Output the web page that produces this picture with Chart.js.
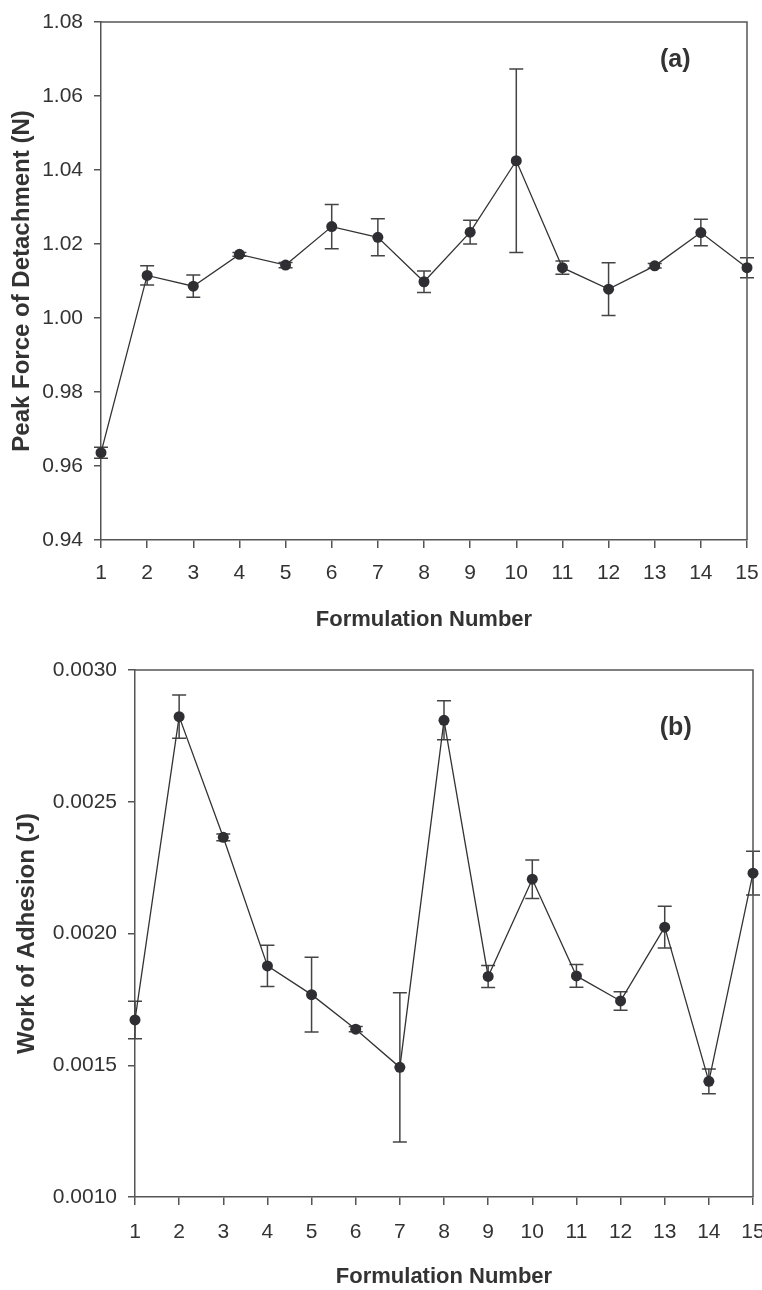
<!DOCTYPE html>
<html>
<head>
<meta charset="utf-8">
<script src="https://cdn.jsdelivr.net/npm/chart.js@4.4.1/dist/chart.umd.min.js"></script>
<style>
body { margin: 0; background: #fff; }
.box { position: relative; width: 762px; height: 645px; }
</style>
</head>
<body>
<div class="box"><canvas id="chartA"></canvas></div>
<div class="box"><canvas id="chartB"></canvas></div>
<script>
const formulations = ['1', '2', '3', '4', '5', '6', '7', '8', '9', '10', '11', '12', '13', '14', '15'];

// (a) peak force of detachment, N
const peakForce = [0.9636, 1.0115, 1.0086, 1.0172, 1.0143, 1.0247, 1.0218, 1.0098, 1.0232, 1.0425, 1.0136, 1.0078, 1.0141, 1.0231, 1.0136];
const peakForceErr = [0.0015, 0.0026, 0.0030, 0.0005, 0.0007, 0.0060, 0.0050, 0.0029, 0.0032, 0.0248, 0.0018, 0.0071, 0.0006, 0.0036, 0.0027];
const peakTicks = [0.94, 0.96, 0.98, 1.00, 1.02, 1.04, 1.06, 1.08];

// (b) work of adhesion, J
const workAdhesion = [0.001672, 0.002823, 0.002365, 0.001877, 0.001768, 0.001637, 0.001492, 0.002809, 0.001837, 0.002206, 0.001839, 0.001744, 0.002024, 0.001439, 0.002229];
const workAdhesionErr = [0.000071, 0.000082, 0.000013, 0.000078, 0.000142, 0.000010, 0.000283, 0.000074, 0.000042, 0.000073, 0.000043, 0.000035, 0.000079, 0.000047, 0.000083];
const workTicks = [0.0010, 0.0015, 0.0020, 0.0025, 0.0030];

Chart.defaults.font.family = "'Liberation Sans', Arial, sans-serif";
Chart.defaults.color = '#333';

// vertical error bars with caps, drawn under the points
const errorBars = {
    id: 'errorBars',
    beforeDatasetsDraw(chart, args, opts) {
        const errs = opts.errors;
        if (!errs) return;
        const ctx = chart.ctx;
        const y = chart.scales.y;
        const values = chart.data.datasets[0].data;
        ctx.save();
        ctx.strokeStyle = '#444';
        ctx.lineWidth = 1.5;
        chart.getDatasetMeta(0).data.forEach((pt, i) => {
            const top = y.getPixelForValue(values[i] + errs[i]);
            const bot = y.getPixelForValue(values[i] - errs[i]);
            ctx.beginPath();
            ctx.moveTo(pt.x, top);
            ctx.lineTo(pt.x, bot);
            ctx.moveTo(pt.x - 7, top);
            ctx.lineTo(pt.x + 7, top);
            ctx.moveTo(pt.x - 7, bot);
            ctx.lineTo(pt.x + 7, bot);
            ctx.stroke();
        });
        ctx.restore();
    }
};

// top/right frame lines and the panel letter
const frame = {
    id: 'frame',
    beforeDatasetsDraw(chart, args, opts) {
        const { ctx, chartArea: a } = chart;
        ctx.save();
        ctx.strokeStyle = '#555';
        ctx.lineWidth = 1.5;
        ctx.beginPath();
        ctx.moveTo(a.left, a.top);
        ctx.lineTo(a.right, a.top);
        ctx.lineTo(a.right, a.bottom);
        ctx.stroke();
        if (opts.label) {
            ctx.fillStyle = '#333';
            ctx.font = "bold 25px 'Liberation Sans', Arial, sans-serif";
            ctx.textAlign = 'center';
            ctx.textBaseline = 'middle';
            ctx.fillText(opts.label, a.left + a.width * opts.lx, a.top + a.height * opts.ly);
        }
        ctx.restore();
    }
};

function makeChart(id, values, errs, ticks, cfg) {
    new Chart(document.getElementById(id), {
        type: 'line',
        data: {
            labels: formulations,
            datasets: [{
                data: values,
                borderColor: '#333',
                borderWidth: 1.3,
                pointRadius: 5.5,
                pointBackgroundColor: '#2e2e33',
                pointBorderColor: '#2e2e33',
                pointBorderWidth: 0,
                tension: 0,
                clip: false
            }]
        },
        options: {
            responsive: true,
            maintainAspectRatio: false,
            animation: false,
            layout: { padding: { top: cfg.top, right: cfg.right, left: 0, bottom: 0 } },
            plugins: {
                legend: { display: false },
                tooltip: { enabled: false },
                errorBars: { errors: errs },
                frame: { label: cfg.label, lx: cfg.lx, ly: cfg.ly }
            },
            scales: {
                x: {
                    offset: false,
                    grid: { drawOnChartArea: false, tickLength: 8, color: '#555', lineWidth: 1.5 },
                    border: { color: '#555', width: 1.5 },
                    ticks: { font: { size: 21 }, padding: cfg.xPad, maxRotation: 0, autoSkip: false },
                    title: {
                        display: true,
                        text: 'Formulation Number',
                        font: { size: 22, weight: 'bold' },
                        padding: { top: 0, bottom: cfg.xTitlePad }
                    },
                    afterFit(scale) {
                        scale.height = cfg.xHeight;
                        scale.paddingLeft = 0;
                        scale.paddingRight = 0;
                    }
                },
                y: {
                    min: ticks[0],
                    max: ticks[ticks.length - 1],
                    afterBuildTicks(scale) {
                        scale.ticks = ticks.map(v => ({ value: v }));
                    },
                    grid: { drawOnChartArea: false, tickLength: 7, color: '#555', lineWidth: 1.5 },
                    border: { color: '#555', width: 1.5 },
                    ticks: {
                        font: { size: 21 },
                        padding: 11,
                        callback: v => v.toFixed(cfg.digits)
                    },
                    title: {
                        display: true,
                        text: cfg.yTitle,
                        font: { size: 24, weight: 'bold' },
                        padding: { top: cfg.yTitlePad, bottom: 0 }
                    },
                    afterFit(scale) {
                        scale.width = cfg.yWidth;
                        scale.paddingTop = 0;
                        scale.paddingBottom = 0;
                    }
                }
            }
        },
        plugins: [errorBars, frame]
    });
}

makeChart('chartA', peakForce, peakForceErr, peakTicks, {
    top: 22, right: 15, yWidth: 101, xHeight: 105,
    xPad: 13, xTitlePad: 12, yTitlePad: 8, digits: 2,
    yTitle: 'Peak Force of Detachment (N)',
    label: '(a)', lx: 0.889, ly: 0.073
});

makeChart('chartB', workAdhesion, workAdhesionErr, workTicks, {
    top: 25, right: 9, yWidth: 135, xHeight: 93,
    xPad: 15, xTitlePad: 0, yTitlePad: 13, digits: 4,
    yTitle: 'Work of Adhesion (J)',
    label: '(b)', lx: 0.875, ly: 0.11
});
</script>
</body>
</html>
